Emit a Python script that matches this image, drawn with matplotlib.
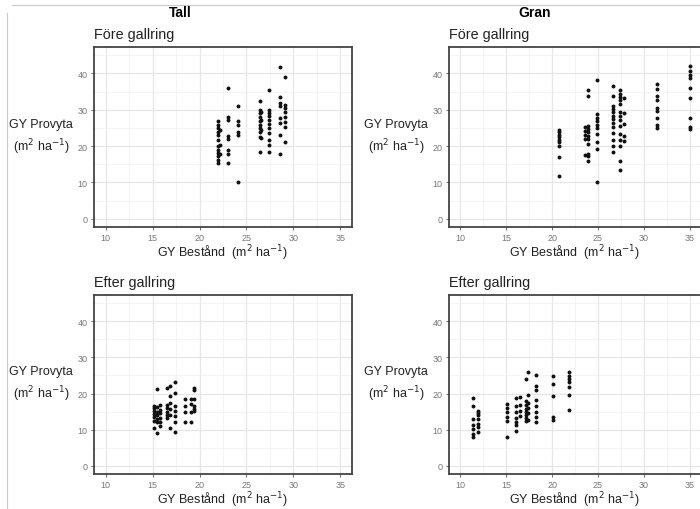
import matplotlib
matplotlib.use("Agg")
import matplotlib.pyplot as plt
import numpy as np
from matplotlib.lines import Line2D

plt.rcParams['font.family'] = ['Liberation Sans', 'DejaVu Sans']

# x columns (GY Bestånd) and the y values (GY Provyta) read in each column
tall_fore_x = [22.0, 22.2, 23.0, 24.1, 26.4, 26.6, 27.4, 28.6, 29.1]
tall_fore_y = [[26.8, 25.9, 25.0, 24.0, 23.1, 21.8, 19.9, 19.0, 18.1, 17.2, 16.3, 15.3],
               [24.5, 20.4, 17.8],
               [36.0, 28.0, 27.1, 22.7, 21.9, 19.0, 17.9, 15.3],
               [30.9, 26.8, 25.7, 23.8, 23.1, 10.0],
               [32.3, 30.0, 29.1, 28.0, 26.8, 25.9, 25.0, 23.8, 22.6, 18.5],
               [29.5, 27.3, 24.4, 22.2],
               [35.3, 30.0, 29.1, 28.2, 27.3, 26.2, 25.0, 23.7, 21.8, 20.3, 18.4],
               [41.7, 33.4, 31.9, 31.0, 27.8, 26.4, 23.0, 17.9],
               [39.0, 31.4, 30.5, 29.3, 28.0, 26.6, 25.2, 21.1]]

gran_fore_x = [20.7, 23.6, 23.9, 24.9, 26.7, 27.4, 27.8, 31.5, 35.1]
gran_fore_y = [[24.5, 23.8, 23.1, 22.5, 21.8, 21.0, 19.9, 17.0, 11.9],
               [25.3, 24.2, 23.1, 22.0, 17.6],
               [35.3, 33.9, 25.6, 24.7, 23.8, 22.9, 22.0, 20.7, 17.8, 17.2, 16.0],
               [38.3, 28.7, 27.7, 26.8, 25.9, 25.0, 23.2, 21.1, 19.3, 10.0],
               [36.6, 33.8, 31.1, 30.2, 29.3, 28.4, 27.5, 26.4, 25.3, 23.7, 21.8, 19.9, 18.4],
               [35.3, 34.3, 33.4, 32.7, 31.6, 29.5, 28.4, 27.3, 25.6, 23.2, 21.8, 20.1, 15.8, 13.3],
               [33.1, 29.0, 26.0, 22.7, 21.3],
               [37.2, 35.8, 33.8, 32.8, 30.6, 29.7, 27.8, 25.8, 25.1],
               [42.0, 40.6, 39.5, 38.6, 36.1, 33.1, 27.8, 25.2, 24.6]]

tall_efter_x = [15.1, 15.5, 15.8, 16.5, 16.8, 17.4, 18.5, 19.1, 19.4]
tall_efter_y = [[16.6, 15.9, 15.2, 14.3, 13.4, 12.5, 10.4],
                [21.2, 16.2, 15.0, 14.0, 13.0, 12.0, 9.2],
                [16.8, 15.5, 14.5, 13.2, 12.2, 11.0],
                [21.6, 16.9, 16.0, 15.0, 14.2, 13.2],
                [22.2, 19.4, 17.5, 15.7, 14.0, 10.6],
                [23.1, 20.1, 16.6, 15.3, 13.9, 12.1, 9.4],
                [18.5, 16.6, 14.8, 12.0],
                [18.5, 17.2, 14.9, 12.0],
                [21.5, 20.9, 18.5, 16.6, 15.8, 15.1]]

gran_efter_x = [11.4, 11.9, 15.1, 16.1, 16.5, 17.2, 17.4, 18.2, 20.1, 21.8]
gran_efter_y = [[18.9, 16.6, 13.0, 11.2, 10.3, 8.9, 8.0],
                [15.3, 14.7, 14.0, 13.0, 11.6, 10.7, 9.3],
                [17.1, 16.1, 14.8, 13.4, 12.3, 7.9],
                [18.7, 16.6, 14.8, 13.2, 12.1, 11.2, 9.6],
                [19.0, 16.9, 15.3, 13.9],
                [24.0, 18.0, 16.8, 15.8, 15.0, 14.2, 13.3, 12.3],
                [26.0, 19.7, 17.5, 16.0, 14.5, 12.8],
                [25.0, 22.2, 20.9, 18.1, 16.6, 14.8, 13.4, 12.0],
                [24.8, 22.7, 19.3, 13.5, 12.6],
                [25.9, 24.9, 24.0, 23.1, 21.9, 19.6, 15.5]]

x_ticks = [10, 15, 20, 25, 30, 35]
y_ticks = [0, 10, 20, 30, 40]

W, H = 700, 510
fig = plt.figure(figsize=(7, 5.1), dpi=100)


def px_rect(left, top, right, bottom):
    return [left / W, (H - bottom) / H, (right - left) / W, (bottom - top) / H]


def panel(rect_px, cols, ys, subtitle):
    left, top, right, bottom = rect_px
    ax = fig.add_axes(px_rect(*rect_px))
    x = np.repeat(cols, [len(v) for v in ys])
    y = np.concatenate(ys)
    ax.scatter(x, y, s=8, color='#111111', linewidths=0, zorder=3)
    ax.set_xlim(8.75, 36.25)
    ax.set_ylim(-2.25, 47.25)
    ax.set_xticks(x_ticks)
    ax.set_yticks(y_ticks)
    ax.set_xticks([12.5, 17.5, 22.5, 27.5, 32.5], minor=True)
    ax.set_yticks([5, 15, 25, 35, 45], minor=True)
    ax.grid(which='major', color='#e6e6e6', linewidth=0.9)
    ax.grid(which='minor', color='#f0f0f0', linewidth=0.5)
    ax.tick_params(which='major', length=2.5, width=0.6, color='#555555',
                   labelsize=6.5, labelcolor='#777777', pad=2)
    ax.tick_params(which='minor', length=0)
    for sp in ax.spines.values():
        sp.set_color('#444444')
        sp.set_linewidth(1.3)
    ax.set_axisbelow(True)
    fig.text(left / W, (H - top + 6) / H, subtitle, fontsize=10.4, color='#222222',
             ha='left', va='bottom')
    cx = (left - 53) / W
    cy = (top + bottom) / 2
    fig.text(cx, (H - cy + 13) / H, 'GY Provyta', fontsize=9, color='#222222',
             ha='center', va='center')
    fig.text(cx, (H - cy - 9) / H, r'(m$^{2}$ ha$^{-1}$)', fontsize=9,
             color='#222222', ha='center', va='center')
    fig.text((left + right) / 2 / W, (H - bottom - 25) / H,
             r'GY Bestånd  (m$^{2}$ ha$^{-1}$)', fontsize=9, color='#222222',
             ha='center', va='center')
    return ax


panel((94, 48, 352, 228), tall_fore_x, tall_fore_y, 'Före gallring')
panel((449, 48, 701, 228), gran_fore_x, gran_fore_y, 'Före gallring')
panel((94, 296, 352, 475), tall_efter_x, tall_efter_y, 'Efter gallring')
panel((449, 296, 701, 475), gran_efter_x, gran_efter_y, 'Efter gallring')

fig.text(180 / W, (H - 13) / H, 'Tall', fontsize=10, fontweight='bold',
         ha='center', va='center')
fig.text(535 / W, (H - 13) / H, 'Gran', fontsize=10, fontweight='bold',
         ha='center', va='center')

# page border lines from the scanned source
fig.add_artist(Line2D([12 / W, 1], [(H - 6) / H] * 2, color='#c8c8c8', lw=0.8))
fig.add_artist(Line2D([7 / W] * 2, [0, (H - 14) / H], color='#c8c8c8', lw=0.8))

fig.savefig('out.png', dpi=100)
